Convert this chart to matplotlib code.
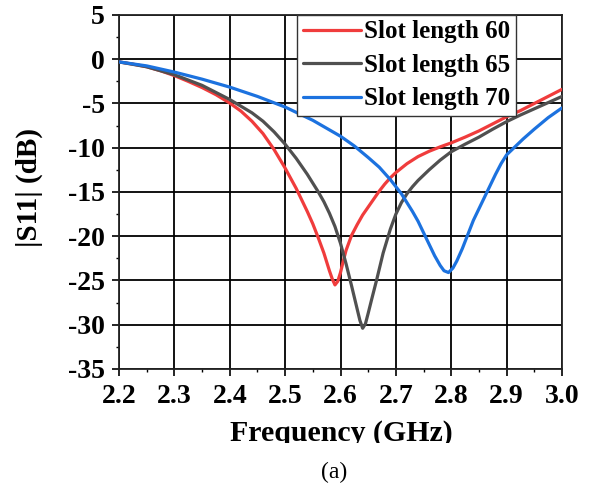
import matplotlib
matplotlib.use("Agg")
import matplotlib.pyplot as plt
from matplotlib.ticker import MultipleLocator, FormatStrFormatter
from matplotlib.transforms import Bbox

plt.rcParams["font.family"] = ["Liberation Serif", "DejaVu Serif"]
plt.rcParams["axes.unicode_minus"] = False

# Return loss |S11| (dB) versus frequency (GHz) for three slot lengths
freq_60 = [2.20, 2.225, 2.25, 2.275, 2.30, 2.325, 2.35, 2.375, 2.40, 2.42, 2.44, 2.46,
           2.48, 2.50, 2.52, 2.54, 2.55, 2.56, 2.57, 2.575, 2.58, 2.585, 2.59, 2.595,
           2.60, 2.605, 2.61, 2.62, 2.63, 2.64, 2.65, 2.66, 2.67, 2.68, 2.69, 2.70,
           2.72, 2.74, 2.76, 2.78, 2.80, 2.825, 2.85, 2.875, 2.90, 2.925, 2.95, 2.975, 3.00]
s11_60 = [-0.3, -0.55, -0.85, -1.3, -1.85, -2.5, -3.2, -4.0, -4.95, -5.85, -7.0, -8.4,
          -10.2, -12.3, -14.6, -17.2, -18.6, -20.2, -21.9, -22.9, -23.9, -24.8, -25.5, -25.1,
          -24.1, -22.8, -21.6, -19.9, -18.7, -17.6, -16.7, -15.8, -14.9, -14.1, -13.4, -12.8,
          -11.8, -11.0, -10.4, -9.9, -9.45, -8.8, -8.1, -7.3, -6.5, -5.8, -5.0, -4.2, -3.4]

freq_65 = [2.20, 2.25, 2.30, 2.35, 2.40, 2.42, 2.44, 2.46, 2.48, 2.50, 2.52, 2.54,
           2.55, 2.56, 2.57, 2.58, 2.59, 2.60, 2.61, 2.62, 2.63, 2.635, 2.64, 2.645,
           2.65, 2.656, 2.665, 2.677, 2.69, 2.70, 2.71, 2.72, 2.73, 2.74, 2.76, 2.78,
           2.80, 2.825, 2.85, 2.875, 2.90, 2.925, 2.95, 2.975, 3.00]
s11_65 = [-0.3, -0.85, -1.75, -2.95, -4.55, -5.3, -6.05, -7.0, -8.2, -9.6, -11.2, -13.0,
          -14.0, -15.0, -16.1, -17.4, -18.9, -20.8, -23.1, -25.6, -28.2, -29.5, -30.4, -29.9,
          -28.7, -27.2, -25.0, -21.9, -19.2, -17.5, -16.2, -15.2, -14.4, -13.7, -12.5, -11.4,
          -10.45, -9.6, -8.8, -7.9, -7.05, -6.3, -5.6, -4.9, -4.2]

freq_70 = [2.20, 2.25, 2.30, 2.35, 2.40, 2.45, 2.50, 2.55, 2.60, 2.625, 2.65, 2.67,
           2.69, 2.70, 2.71, 2.72, 2.73, 2.74, 2.75, 2.76, 2.77, 2.78, 2.787, 2.795,
           2.803, 2.81, 2.82, 2.83, 2.84, 2.85, 2.86, 2.87, 2.88, 2.89, 2.90, 2.915,
           2.93, 2.95, 2.975, 3.00]
s11_70 = [-0.3, -0.75, -1.45, -2.25, -3.15, -4.2, -5.4, -6.9, -8.7, -9.8, -11.1, -12.2,
          -13.6, -14.4, -15.2, -16.2, -17.2, -18.3, -19.6, -20.9, -22.2, -23.3, -23.9, -24.1,
          -23.6, -22.8, -21.4, -19.8, -18.2, -16.9, -15.6, -14.3, -13.0, -11.8, -10.8, -9.9,
          -9.0, -7.9, -6.6, -5.5]

labels = ["Slot length 60", "Slot length 65", "Slot length 70"]
colors = ["#F03C3C", "#505050", "#1C72DF"]

fig = plt.figure(figsize=(5.93, 4.87), dpi=100)
ax = fig.add_axes([0.2007, 0.2423, 0.7470, 0.7269])

for f, s, lab, c in zip([freq_60, freq_65, freq_70], [s11_60, s11_65, s11_70], labels, colors):
    ax.plot(f, s, color=c, lw=2.3, label=lab, zorder=3,
            solid_capstyle="round", solid_joinstyle="round")

ax.set_xlim(2.2, 3.0)
ax.set_ylim(-35, 5)
ax.xaxis.set_major_locator(MultipleLocator(0.1))
ax.xaxis.set_minor_locator(MultipleLocator(0.05))
ax.yaxis.set_major_locator(MultipleLocator(5))
ax.yaxis.set_minor_locator(MultipleLocator(2.5))
ax.xaxis.set_major_formatter(FormatStrFormatter("%.1f"))
ax.yaxis.set_major_formatter(FormatStrFormatter("%d"))

ax.grid(True, which="major", color="black", lw=1.3, zorder=1)
ax.set_axisbelow(True)
for sp in ax.spines.values():
    sp.set_color("#222222")
    sp.set_linewidth(1.3)

ax.tick_params(which="major", direction="out", length=5, width=1.2, pad=5,
               labelsize=20, colors="black")
ax.tick_params(which="minor", direction="out", length=2.5, width=1.0, colors="black")
ax.tick_params(axis="x", which="major", pad=6)
ax.tick_params(top=False, right=False)
for lbl in ax.get_xticklabels() + ax.get_yticklabels():
    lbl.set_fontweight("bold")

ax.set_ylabel("|S11| (dB)", fontsize=21, fontweight="bold")
ax.yaxis.set_label_coords(-0.172, 0.514)

leg = ax.legend(loc="upper left", bbox_to_anchor=(0.402, 1.0), borderaxespad=0,
                fancybox=False, framealpha=1, edgecolor="#333333",
                prop={"weight": "bold", "size": 18}, handlelength=2.35,
                handletextpad=0.12, labelspacing=0.42, borderpad=0.22)
leg.get_frame().set_linewidth(1.0)
for ln in leg.get_lines():
    ln.set_linewidth(2.3)

xl = fig.text(0.575 * 593, 487 - 441, "Frequency (GHz)", transform=None, ha="center",
              va="baseline", fontsize=21.5, fontweight="bold")
xl.set_clip_box(Bbox([[0, 44], [593, 487]]))
xl.set_clip_on(True)

fig.text(0.563, 1 - 472 / 487, "(a)", ha="center", va="center", fontsize=17)

fig.savefig("out.png", dpi=100)
